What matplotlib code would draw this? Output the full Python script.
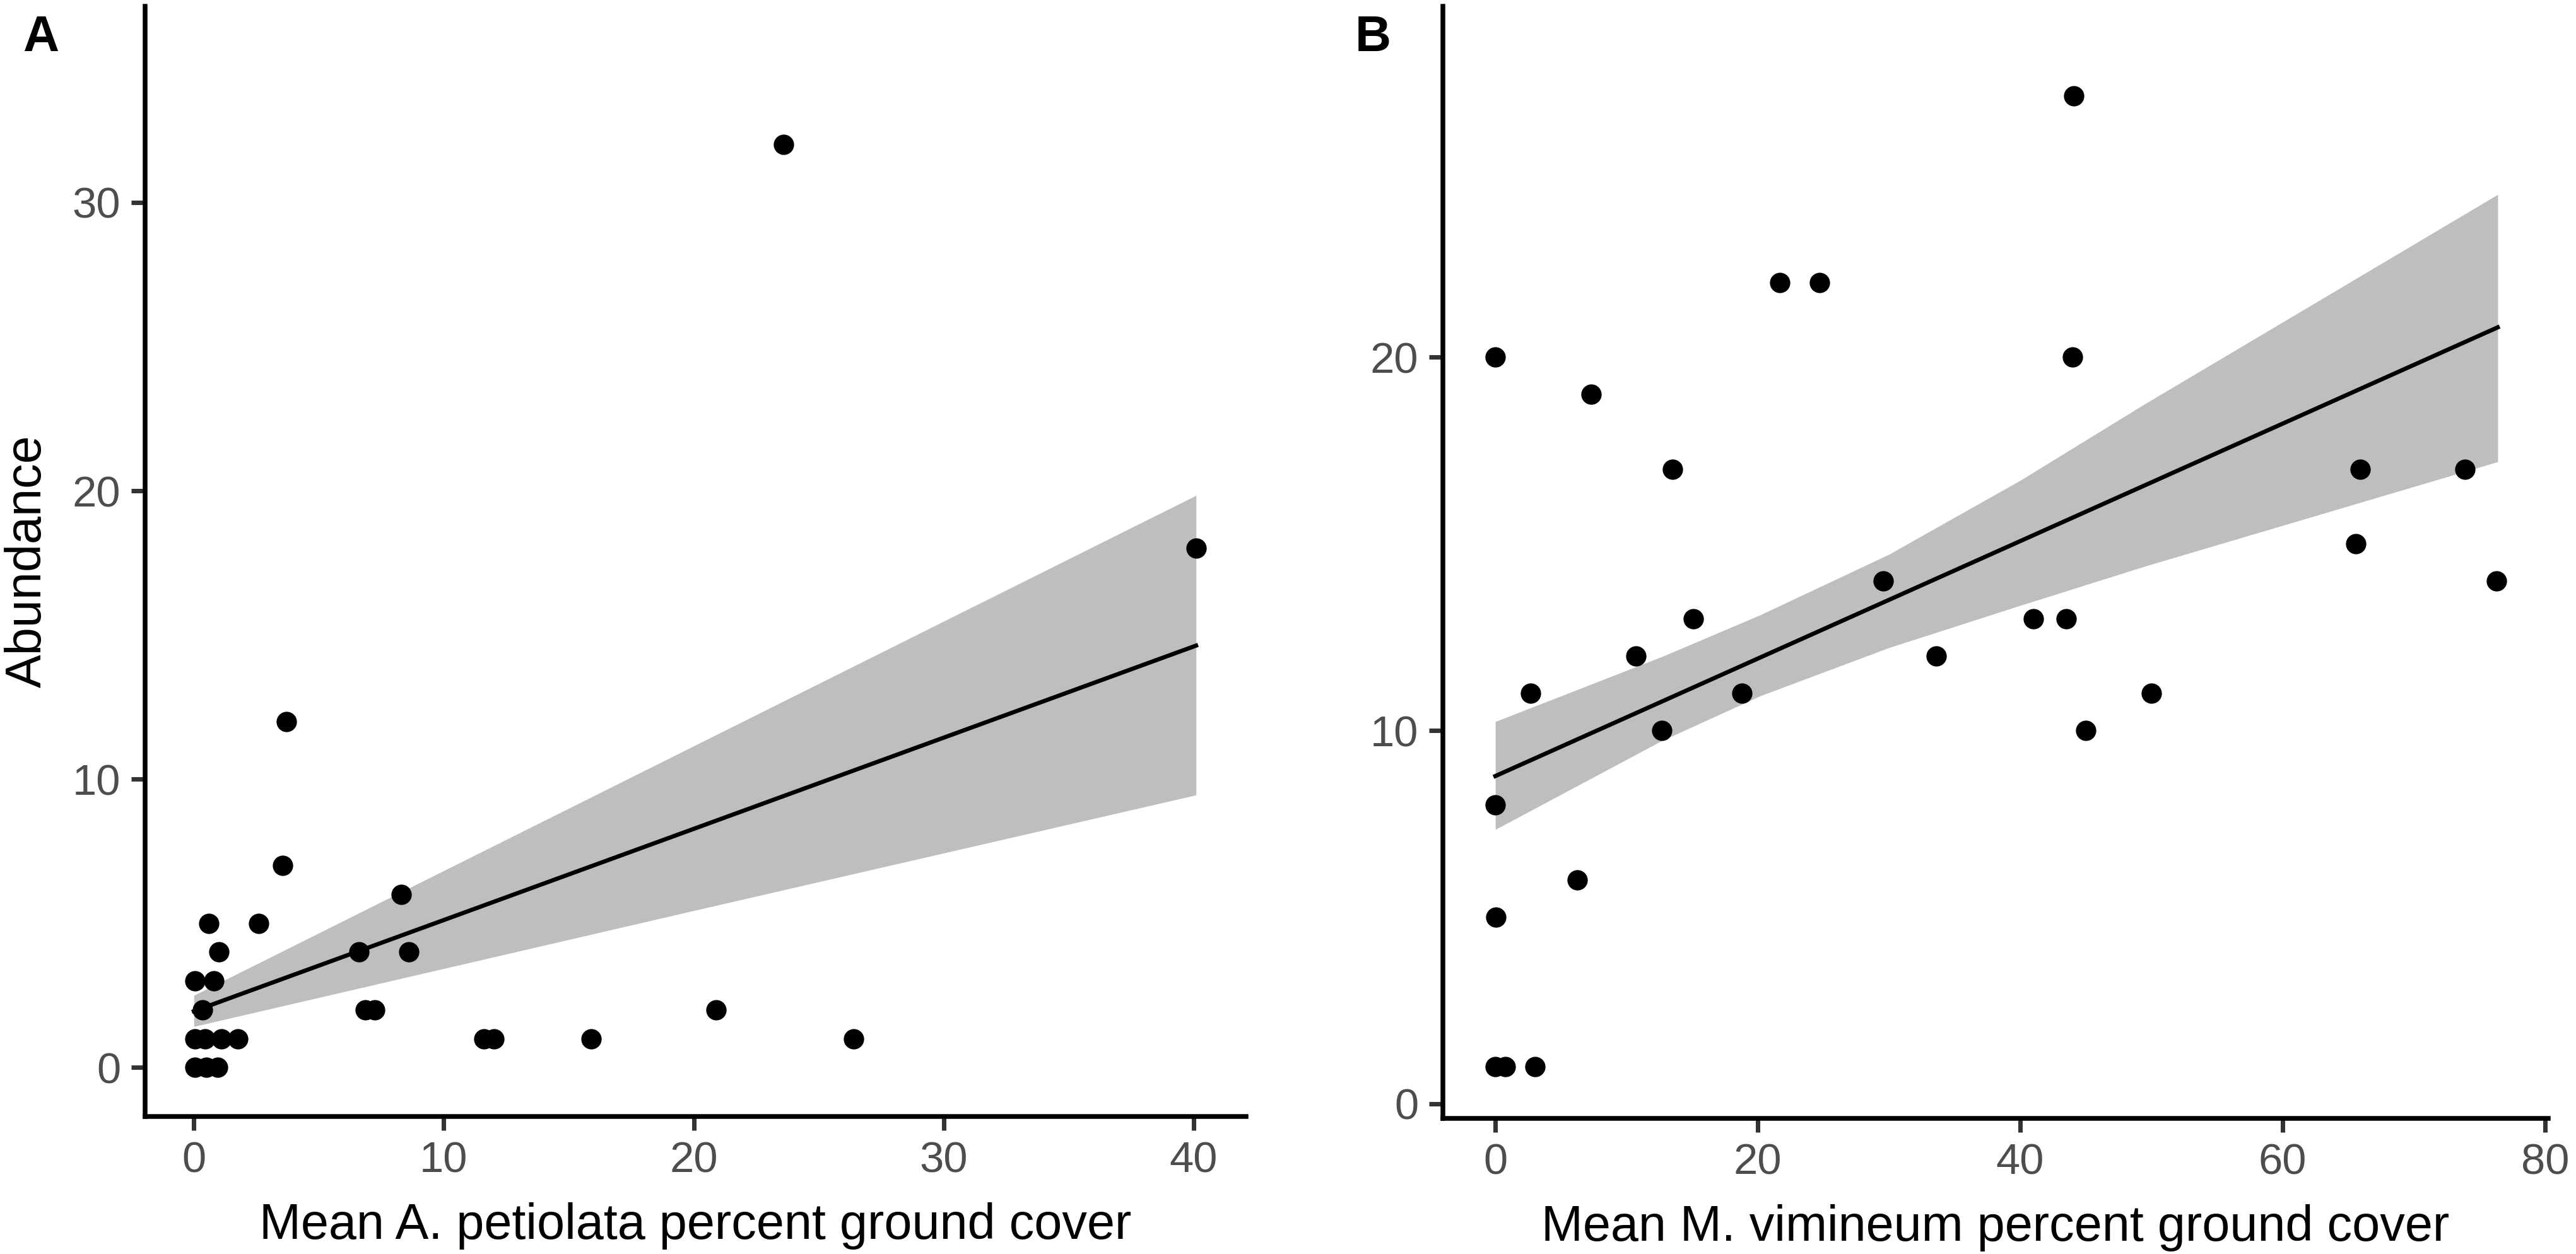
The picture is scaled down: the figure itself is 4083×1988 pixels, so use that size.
import matplotlib
matplotlib.use("Agg")
import matplotlib.pyplot as plt
import numpy as np

plt.rcParams['font.family'] = ['Liberation Sans', 'DejaVu Sans']

# panel A: garlic mustard cover vs abundance
a_x = [23.6, 40.1, 3.7, 3.55, 8.3, 0.6, 2.6, 1.0, 6.6, 8.6, 0.05, 0.8, 0.35, 6.85, 7.25, 20.9,
       0.05, 0.45, 1.1, 1.75, 11.6, 12.0, 15.9, 26.4, 0.05, 0.5, 0.95]
a_y = [32, 18, 12, 7, 6, 5, 5, 4, 4, 4, 3, 3, 2, 2, 2, 2,
       1, 1, 1, 1, 1, 1, 1, 1, 0, 0, 0]
# fitted line and confidence band
a_fit_x = [0, 40.1]
a_fit_y = [1.95, 14.63]
a_band_x = [0, 20, 40.1]
a_band_hi = [2.5, 11.15, 19.84]
a_band_lo = [1.42, 5.44, 9.45]

# panel B: stiltgrass cover vs abundance
b_x = [0, 0, 0.05, 0, 0.75, 3.0, 2.7, 6.25, 7.3, 13.5, 10.7, 12.7, 15.1, 18.8,
       21.7, 24.7, 29.55, 33.6, 41.0, 43.5, 44.1, 44.0, 45.0, 50.0, 65.9, 65.6, 73.9, 76.3]
b_y = [20, 8, 5, 1, 1, 1, 11, 6, 19, 17, 12, 10, 13, 11,
       22, 22, 14, 12, 13, 13, 27, 20, 10, 11, 17, 15, 17, 14]
b_fit_x = [0, 76.4]
b_fit_y = [8.78, 20.8]
b_band_x = [0, 12.7, 20.2, 30, 40, 49.5, 76.4]
b_band_hi = [10.24, 11.98, 13.1, 14.72, 16.7, 18.75, 24.36]
b_band_lo = [7.35, 9.73, 10.93, 12.22, 13.35, 14.4, 17.2]

W, H = 4083, 1988
fig = plt.figure(figsize=(W / 300, H / 300), dpi=300)


def panel(rect, xs, ys, fx, fy, bx, bhi, blo, xlim, ylim, xticks, yticks, xlabel, ylabel, tag, tag_x):
  ax = fig.add_axes(rect)
  ax.fill_between(bx, blo, bhi, color='#BEBEBE', linewidth=0, zorder=1)
  ax.plot(fx, fy, color='black', linewidth=1.6, zorder=2)
  ax.scatter(xs, ys, s=60, color='black', linewidths=0, zorder=3)
  ax.set_xlim(*xlim)
  ax.set_ylim(*ylim)
  ax.set_xticks(xticks)
  ax.set_yticks(yticks)
  for s in ['top', 'right']:
    ax.spines[s].set_visible(False)
  for s in ['left', 'bottom']:
    ax.spines[s].set_linewidth(1.8)
    ax.spines[s].set_color('black')
  ax.tick_params(axis='both', length=5.3, width=1.7, color='#333333',
                 labelsize=16.5, labelcolor='#4D4D4D', pad=4)
  ax.set_xlabel(xlabel, fontsize=19, labelpad=8)
  if ylabel:
    ax.set_ylabel(ylabel, fontsize=19, labelpad=8)
  fig.text(tag_x / W, 1 - 23 / H, tag, fontsize=19, fontweight='bold', va='top', ha='left')
  return ax


panel([230 / W, 1 - 1770 / H, (1975 - 230) / W, (1770 - 10) / H],
      a_x, a_y, a_fit_x, a_fit_y, a_band_x, a_band_hi, a_band_lo,
      (-1.95, 42.1), (-1.7, 36.8), [0, 10, 20, 30, 40], [0, 10, 20, 30],
      'Mean A. petiolata percent ground cover', 'Abundance', 'A', 36)

panel([2287 / W, 1 - 1773 / H, (4039 - 2287) / W, (1773 - 10) / H],
      b_x, b_y, b_fit_x, b_fit_y, b_band_x, b_band_hi, b_band_lo,
      (-4.0, 80.25), (-0.39, 29.4), [0, 20, 40, 60, 80], [0, 10, 20],
      'Mean M. vimineum percent ground cover', None, 'B', 2148)

fig.savefig('out.png', dpi=300, facecolor='white')
